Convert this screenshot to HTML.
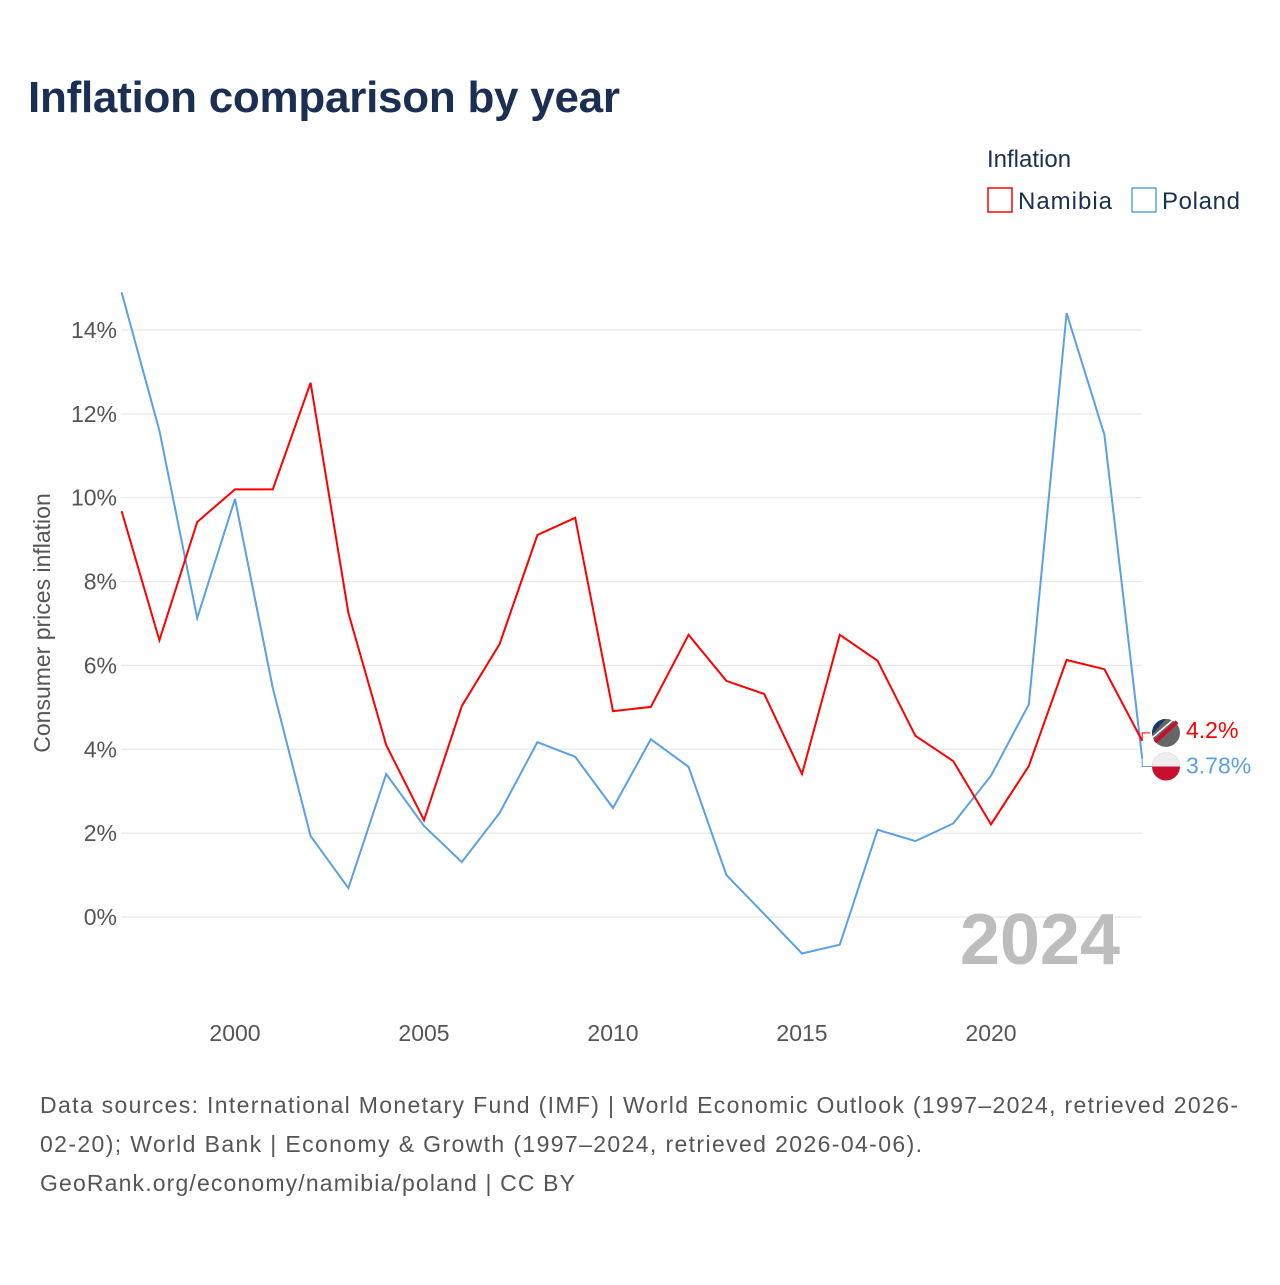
<!DOCTYPE html>
<html><head><meta charset="utf-8">
<style>
body{margin:0;background:#fff;font-family:"Liberation Sans",sans-serif;}
svg text{font-family:"Liberation Sans",sans-serif;}
</style></head>
<body>
<svg width="1280" height="1280" viewBox="0 0 1280 1280">
<text x="28" y="112" font-size="44" font-weight="bold" fill="#1b2f52" textLength="592">Inflation comparison by year</text>
<text x="987" y="167" font-size="24" fill="#1b2f52">Inflation</text>
<g>
<rect x="988" y="188" width="24" height="24" fill="none" stroke="#f00" stroke-width="1.5"/>
<text x="1018" y="209" font-size="24" fill="#1b2f52" textLength="94">Namibia</text></g>
<g>
<rect x="1132" y="188" width="24" height="24" fill="none" stroke="#5aa0e6" stroke-width="1.5"/>
<text x="1162" y="209" font-size="24" fill="#1b2f52" textLength="78">Poland</text></g>
<g id="grid"></g>
<g id="series"></g>
<text x="1120" y="964" text-anchor="end" font-size="72" font-weight="bold" fill="#bdbdbd">2024</text>
<text transform="translate(50,623) rotate(-90)" text-anchor="middle" font-size="23" fill="#555">Consumer prices inflation</text>
<g font-size="23" fill="#555">
<text x="40" y="1113" textLength="1198">Data sources: International Monetary Fund (IMF) | World Economic Outlook (1997–2024, retrieved 2026-</text>
<text x="40" y="1152" textLength="882">02-20); World Bank | Economy &amp; Growth (1997–2024, retrieved 2026-04-06).</text>
<text x="40" y="1191" textLength="535">GeoRank.org/economy/namibia/poland | CC BY</text></g>
</svg>
<script>
const years=[1997,1998,1999,2000,2001,2002,2003,2004,2005,2006,2007,2008,2009,2010,2011,2012,2013,2014,2015,2016,2017,2018,2019,2020,2021,2022,2023,2024];
const namibia=[9.68,6.6,9.42,10.2,10.2,12.74,7.25,4.1,2.31,5.03,6.51,9.11,9.52,4.91,5.01,6.73,5.63,5.32,3.41,6.73,6.11,4.32,3.72,2.21,3.6,6.13,5.91,4.2];
const poland=[14.9,11.6,7.13,9.97,5.46,1.93,0.69,3.41,2.17,1.31,2.48,4.17,3.82,2.6,4.24,3.58,1.0,0.07,-0.87,-0.66,2.08,1.81,2.23,3.37,5.07,14.4,11.5,3.78];
const yTicks=[0,2,4,6,8,10,12,14];
const xTicks=[2000,2005,2010,2015,2020];
const NS='http://www.w3.org/2000/svg';
const xs=y=>235+(y-2000)*37.8;
const ys=v=>917-v*41.93;
const grid=document.getElementById('grid'),ser=document.getElementById('series');
function mk(tag,attrs,parent){const e=document.createElementNS(NS,tag);for(const k in attrs)e.setAttribute(k,attrs[k]);parent.appendChild(e);return e;}
yTicks.forEach(t=>{
 const l=mk('line',{x1:121,x2:1142,y1:ys(t),y2:ys(t),stroke:'#e8e8e8','stroke-width':1.2},grid);
 
 
 const tx=mk('text',{x:117,y:ys(t)+8,'text-anchor':'end','font-size':23,fill:'#555'},grid);
 tx.textContent=t+'%';
 
 
});
xTicks.forEach(t=>{
 const tx=mk('text',{x:xs(t),y:1041,'text-anchor':'middle','font-size':23,fill:'#555'},grid);
 tx.textContent=t;
 
 
});
function line(vals,color,name){
 const p=mk('polyline',{points:vals.map((v,i)=>xs(years[i])+','+ys(v)).join(' '),fill:'none',stroke:color,'stroke-width':2},ser);
 
 
}
line(poland,'#5aa0e6','poland-line');
line(namibia,'#f00','namibia-line');
const ln=namibia[namibia.length-1],lp=poland[poland.length-1],xe=xs(2024);
const nY=ys(ln)-8,pY=ys(lp)+8;
mk('polyline',{points:`${xe},${ys(ln)} ${xe},${nY} ${xe+8},${nY}`,fill:'none',stroke:'#f00','stroke-width':1},ser);
mk('polyline',{points:`${xe},${ys(lp)} ${xe},${pY} ${xe+10},${pY}`,fill:'none',stroke:'#5aa0e6','stroke-width':1},ser);
const fn=mk('g',{},ser);


mk('circle',{cx:1166,cy:nY,r:14,fill:'#666'},fn);
mk('path',{d:`M1152,${nY} A14,14 0 0 1 1166,${nY-14} L1152,${nY+2}Z`,fill:'#1b3a6b'},fn);
mk('line',{x1:1155,y1:nY+9,x2:1177,y2:nY-11,stroke:'#c8102e','stroke-width':4},fn);
mk('line',{x1:1152,y1:nY+5,x2:1173,y2:nY-13,stroke:'#fff','stroke-width':1.5},fn);
const fp=mk('g',{},ser);


mk('circle',{cx:1166,cy:pY,r:14,fill:'#c8102e'},fp);
mk('path',{d:`M1152,${pY} A14,14 0 0 1 1180,${pY}Z`,fill:'#eee'},fp);
const tn=mk('text',{x:1186,y:nY+5,'font-size':23,fill:'#f00'},ser);
tn.textContent=ln+'%';


const tp=mk('text',{x:1186,y:pY+7,'font-size':23,fill:'#5aa0e6'},ser);
tp.textContent=lp+'%';


</script>
</body></html>
